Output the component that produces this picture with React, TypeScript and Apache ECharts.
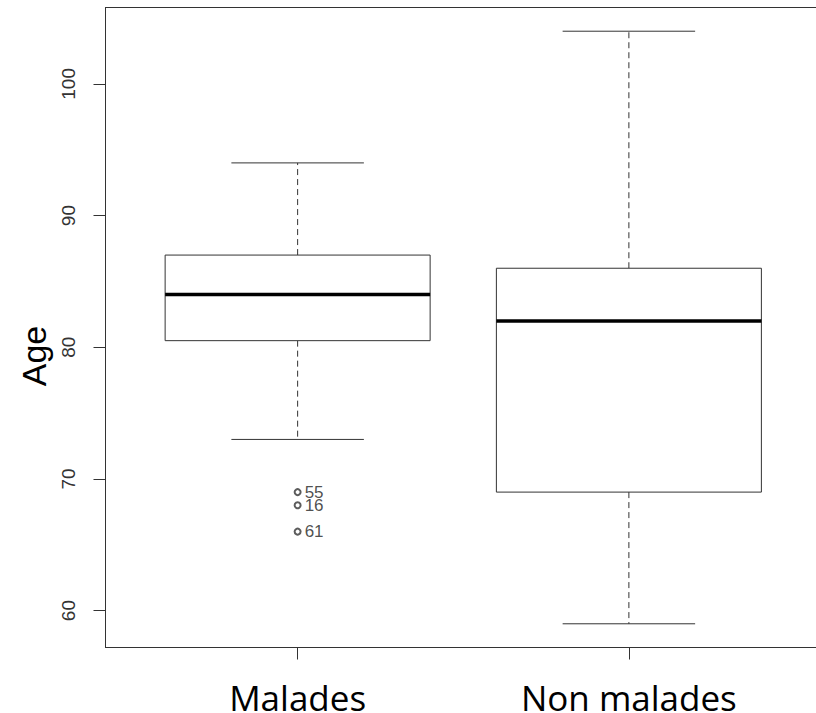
import React, { useEffect, useRef } from "react";
import * as echarts from "echarts";

const categories = ["Malades", "Non malades"];
// [low whisker, Q1, median, Q3, high whisker]
const boxStats = [
  [73, 80.5, 84, 87, 94],
  [59, 69, 82, 86, 104],
];
const outlierValues = [69, 68, 66];
const outlierIds = ["55", "16", "61"];
const yTicks = [60, 70, 80, 90, 100];

export default function App() {
  const ref = useRef<HTMLDivElement>(null);
  useEffect(() => {
    if (!ref.current) return;
    const chart = echarts.init(ref.current, undefined, { renderer: "svg" });
    const boxData = boxStats.map((s, i) => [i + 1, ...s]);
    const outData = outlierValues.map((v, i) => ({ value: [1, v], id: outlierIds[i] }));
    const frameLine = { show: true, onZero: false, lineStyle: { color: "#333", width: 1 } };
    chart.setOption({
      animation: false,
      grid: {
        left: 105.5,
        top: 7.5,
        right: 9,
        bottom: 65.5,
        show: false,
        outerBoundsMode: "none",
        containLabel: false,
      },
      xAxis: [
        {
          type: "value",
          min: 0.42,
          max: 2.58,
          axisLine: frameLine,
          splitLine: { show: false },
          axisTick: {
            show: true,
            customValues: [1, 2],
            length: 12,
            lineStyle: { color: "#333" },
          },
          axisLabel: {
            customValues: [1, 2],
            formatter: (v: number) => categories[Math.round(v) - 1] ?? "",
            fontFamily: "Open Sans",
            fontSize: 35,
            lineHeight: 30,
            color: "#000",
            margin: 34.5,
          },
        },
        {
          type: "value",
          position: "top",
          min: 0.42,
          max: 2.58,
          axisLine: frameLine,
          splitLine: { show: false },
          axisTick: { show: false },
          axisLabel: { show: false },
        },
      ],
      yAxis: {
        type: "value",
        min: 57.2,
        max: 105.8,
        axisLine: frameLine,
        splitLine: { show: false },
        axisTick: {
          show: true,
          customValues: yTicks,
          length: 12,
          lineStyle: { color: "#333" },
        },
        axisLabel: {
          customValues: yTicks,
          rotate: 90,
          fontFamily: "Liberation Sans",
          fontSize: 19,
          color: "#333",
          margin: 28,
        },
      },
      graphic: [
        {
          type: "text",
          x: 34,
          y: 356,
          rotation: Math.PI / 2,
          style: {
            text: "Age",
            fontFamily: "Liberation Sans",
            fontSize: 34,
            fill: "#000",
            textAlign: "center",
            textVerticalAlign: "middle",
          },
        },
      ],
      series: [
        {
          type: "custom",
          data: boxData,
          renderItem: (params: any, api: any) => {
            const x = api.value(0);
            const low = api.coord([x, api.value(1)]);
            const q1 = api.coord([x, api.value(2)]);
            const med = api.coord([x, api.value(3)]);
            const q3 = api.coord([x, api.value(4)]);
            const high = api.coord([x, api.value(5)]);
            const boxW = api.size([0.8, 0])[0];
            const capW = api.size([0.4, 0])[0];
            const cx = low[0];
            const dash = { stroke: "#333", lineWidth: 1, lineDash: [6, 4] };
            const solid = { stroke: "#333", lineWidth: 1 };
            return {
              type: "group",
              children: [
                { type: "line", shape: { x1: cx, y1: q3[1], x2: cx, y2: high[1] }, style: dash },
                { type: "line", shape: { x1: cx, y1: q1[1], x2: cx, y2: low[1] }, style: dash },
                { type: "line", shape: { x1: cx - capW / 2, y1: high[1], x2: cx + capW / 2, y2: high[1] }, style: solid },
                { type: "line", shape: { x1: cx - capW / 2, y1: low[1], x2: cx + capW / 2, y2: low[1] }, style: solid },
                {
                  type: "rect",
                  shape: { x: cx - boxW / 2, y: q3[1], width: boxW, height: q1[1] - q3[1] },
                  style: { fill: "#fff", stroke: "#333", lineWidth: 1 },
                },
                {
                  type: "line",
                  shape: { x1: cx - boxW / 2, y1: med[1], x2: cx + boxW / 2, y2: med[1] },
                  style: { stroke: "#000", lineWidth: 3.5 },
                },
              ],
            };
          },
        },
        {
          type: "scatter",
          data: outData,
          symbol: "emptyCircle",
          symbolSize: 6,
          itemStyle: { color: "#333", borderColor: "#333", borderWidth: 0.8 },
          label: {
            show: true,
            position: "right",
            distance: 3,
            formatter: (p: any) => p.data.id,
            fontFamily: "Liberation Sans",
            fontSize: 17,
            color: "#222",
          },
        },
      ],
    });
    return () => chart.dispose();
  }, []);
  return (
    <div style={{ position: "absolute", left: 0, top: 0, width: 816, height: 713, overflow: "hidden" }}>
      <div ref={ref} style={{ width: 830, height: 713 }} />
    </div>
  );
}
